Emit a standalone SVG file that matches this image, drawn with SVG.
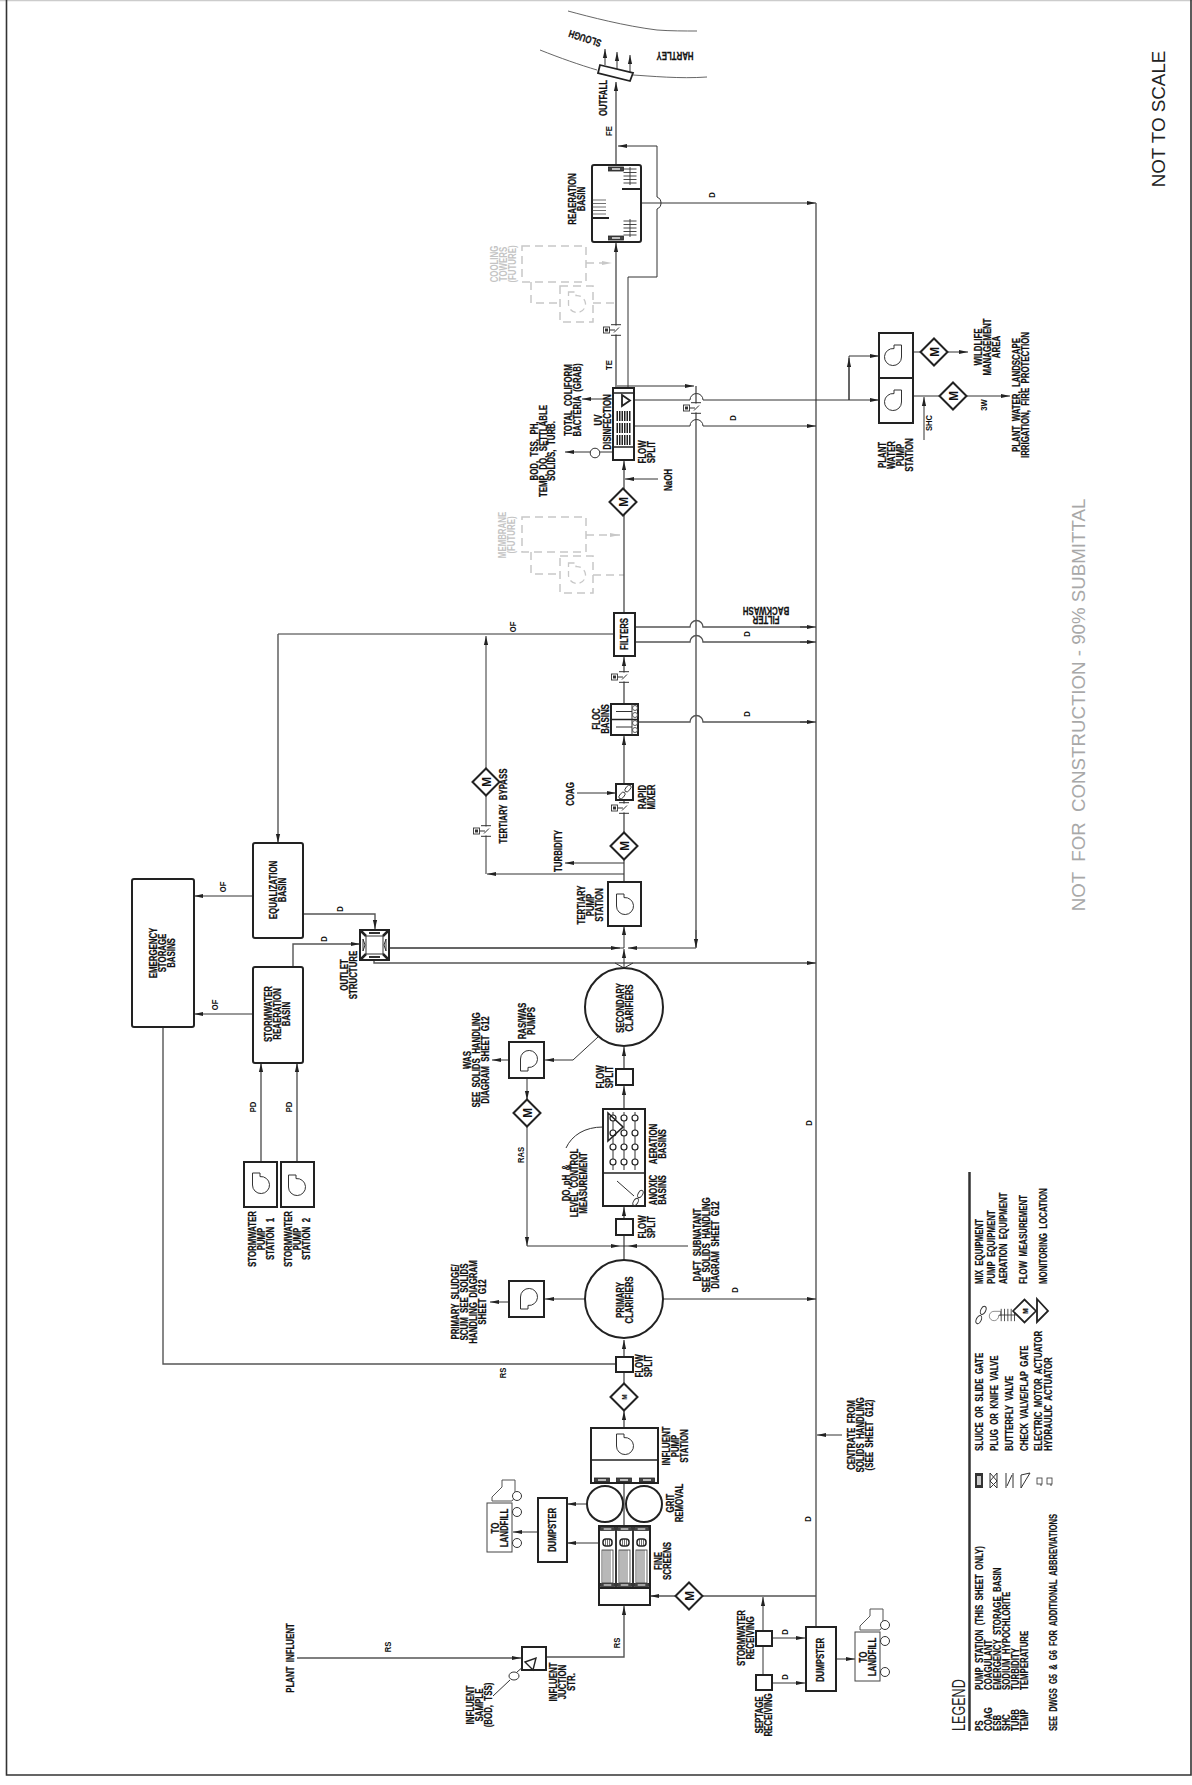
<svg xmlns="http://www.w3.org/2000/svg" width="1192" height="1785" viewBox="0 0 1192 1785">
<style>
text{font-family:"Liberation Sans",Arial,sans-serif;fill:#111;white-space:pre}
.t{font-size:10.5px;font-weight:bold;text-anchor:middle;stroke:#111;stroke-width:.25}
.s{font-size:10.5px;font-weight:bold;stroke:#111;stroke-width:.2}
.l{font-size:9px;text-anchor:middle;font-weight:bold}
.f{font-size:10.5px;font-weight:bold;text-anchor:middle;fill:#c4c4c4}
.m{font-size:13px;font-weight:bold;text-anchor:middle}
.box{fill:#fff;stroke:#222;stroke-width:2}
.ln{fill:none;stroke:#333;stroke-width:1}
.ln2{fill:none;stroke:#555;stroke-width:1.4}
.mk{marker-end:url(#a)}
.fu{fill:none;stroke:#c8c8c8;stroke-width:1.5;stroke-dasharray:8 5}
.fp{fill:none;stroke:#c8c8c8;stroke-width:1.3;stroke-dasharray:6 4}
.hat{stroke:#333;stroke-width:.7;fill:none}
.bar{stroke:#222;stroke-width:10;stroke-dasharray:1.5 1;fill:none}
</style>
<defs>
<marker id="a" markerUnits="userSpaceOnUse" markerWidth="11" markerHeight="6" refX="10" refY="3" orient="auto"><path d="M1,.9 L10,3 L1,5.100 Z" fill="#222"/></marker>
<marker id="ag" markerUnits="userSpaceOnUse" markerWidth="11" markerHeight="6" refX="10" refY="3" orient="auto"><path d="M0,1 L10,3 L0,5 Z" fill="#c8c8c8"/></marker>
<path id="pump" d="M-8.500,-12 H-1 V-8.400 A8.500,8.500 0 1 1 -8.500,0 Z" fill="none" stroke="#333" stroke-width="1"/>
<path id="dia" d="M-13.500,0 L0,-13.500 L13.500,0 L0,13.500 Z" fill="#fff" stroke="#222" stroke-width="2"/>
<g id="valve"><rect x="-6" y="-4.500" width="12" height="9" fill="#fff"/><path d="M-5,-5.300H5M-5,5.300H5M-7,0H-1M-2,2.500L3,-2.500" fill="none" stroke="#333" stroke-width="1"/><rect x="-12.500" y="-3" width="6" height="6" fill="#fff" stroke="#333" stroke-width=".9"/><rect x="-11" y="-1.500" width="3" height="3" fill="#333"/></g>
<g id="gate"><rect x="-7.500" y="-2" width="15" height="4" fill="#444" stroke="#222" stroke-width=".8"/><rect x="-4" y="-.8" width="8" height="1.600" fill="#ddd"/></g>
<g id="prop" fill="none" stroke="#333" stroke-width=".9"><ellipse cx="3" cy="-3.500" rx="2.200" ry="4" transform="rotate(40 3 -3.500)"/><ellipse cx="-3" cy="3.500" rx="2.200" ry="4" transform="rotate(40 -3 3.500)"/></g>
<g id="aer" class="hat"><path d="M-6.500,-10H6.500M-6.500,-6.500H6.500M-6.500,-3H6.500M-6.500,.5H6.500M-6.500,4H6.500M0,-12V6" stroke-width=".9"/></g>
<g id="truck"><path d="M28,-23 H15 V-16 L5,-6 V-2 H25 L28,-6 Z" fill="#fff" stroke="#555" stroke-width="1"/><rect x="0" y="0" width="25" height="49" fill="#fff" stroke="#444" stroke-width="1"/><circle cx="30" cy="-7" r="4.500" fill="#fff" stroke="#333" stroke-width="1"/><circle cx="30" cy="9" r="4.500" fill="#fff" stroke="#333" stroke-width="1"/><circle cx="30" cy="40" r="4.500" fill="#fff" stroke="#333" stroke-width="1"/></g>
</defs>
<rect width="1192" height="1785" fill="#fff"/>
<path d="M0,.5H1192" stroke="#ccc" stroke-width="1.500"/>
<path d="M6.500,0V1775H1191V0" fill="none" stroke="#333" stroke-width="1.600"/>

<g id="waterway" fill="none" stroke="#555" stroke-width=".9">
<path d="M568,11 C590,17 625,26 657,30 C670,31 685,31 697,31"/>
<path d="M540,50 C560,58 580,65 597,70"/>
<path d="M633,75 C650,76 680,79 707,77"/>
</g>

<g id="connectors">
<path class="fu" d="M586,263H612" marker-end="url(#ag)"/><path class="fu" d="M593,303H616"/><path class="fu" d="M586,535H620" marker-end="url(#ag)"/><path class="fu" d="M593,575H624"/>
<path class="ln2 mk" d="M616,165V82"/>
<path class="ln mk" d="M605,65V49"/><path class="ln mk" d="M617,70V52"/><path class="ln mk" d="M630,72V55"/>
<path class="ln mk" d="M628,390V277H657V209A6.500,6.500 0 0 0 657,197V146H618"/>
<path class="ln mk" d="M641,203H816"/>
<path class="ln2 mk" d="M616,390V243"/>
<path class="ln2" d="M816,203V1627"/>
<path class="ln mk" d="M617,386H694"/>
<path class="ln2" d="M696,386V947"/>
<path class="ln mk" d="M633,400H690A6.500,6.500 0 0 1 703,400H879"/>
<path class="ln mk" d="M633,426H690A6.500,6.500 0 0 1 703,426H816"/>
<path class="ln mk" d="M849,400V356H879"/>
<path class="ln mk" d="M849,400V358"/>
<path class="ln" d="M904,352H920"/><path class="ln mk" d="M947,352H968"/>
<path class="ln" d="M904,396H939"/><path class="ln mk" d="M967,396H1010"/>
<path class="ln mk" d="M924,440V397"/>
<path class="ln mk" d="M613,399H582"/>
<path class="ln mk" d="M613,452H565"/>
<path class="ln mk" d="M658,479H625"/>
<path class="ln2 mk" d="M624,613V461"/>
<path class="ln2 mk" d="M624,704V657"/>
<path class="ln2 mk" d="M624,784V736"/>
<path class="ln2" d="M624,882V860"/>
<path class="ln2" d="M624,832V801"/>
<path class="ln2" d="M635,627H690A6.500,6.500 0 0 1 703,627H810"/><path class="ln mk" d="M800,627H816"/>
<path class="ln2" d="M635,642H690A6.500,6.500 0 0 1 703,642H810"/><path class="ln mk" d="M800,642H816"/>
<path class="ln2" d="M638,722H690A6.500,6.500 0 0 1 703,722H810"/><path class="ln mk" d="M800,722H816"/>
<path class="ln" d="M614,634H278"/><path class="ln2 mk" d="M278,634V843"/>
<path class="ln mk" d="M486,768V636"/><path class="ln" d="M486,796V874"/><path class="ln mk" d="M624,874H487"/>
<path class="ln mk" d="M624,863H565"/>
<path class="ln mk" d="M577,793H616"/>
<path class="ln mk" d="M253,896H194"/>
<path class="ln mk" d="M253,1014H194"/>
<path class="ln2 mk" d="M303,914H375V929"/>
<path class="ln2 mk" d="M293,967V944H360"/>
<path class="ln" d="M389,948H624"/><path class="ln mk" d="M389,948H620"/>
<path class="ln mk" d="M696,948H628"/>
<path class="ln2 mk" d="M696,930V948"/>
<path class="ln2 mk" d="M374,960V963H816"/>
<path class="ln mk" d="M624,948V926"/>
<path class="ln mk" d="M624,968V949"/>
<path class="ln" d="M615,963L624,968L633,963"/>
<path class="ln2 mk" d="M261,1162V1063"/><path class="ln2 mk" d="M297,1162V1063"/>
<path class="ln2 mk" d="M624,1068V1047"/>
<path class="ln2 mk" d="M624,1109V1086"/>
<path class="ln2 mk" d="M624,1219V1207"/>
<path class="ln2" d="M624,1235V1260"/>
<path class="ln mk" d="M598,1037L573,1060H545"/>
<path class="ln mk" d="M509,1060H492"/>
<path class="ln mk" d="M527,1078V1100"/>
<path class="ln mk" d="M527,1127V1246"/><path class="ln mk" d="M527,1246H620"/><path class="ln mk" d="M688,1246H628"/><path class="ln" d="M620,1246H628"/>
<path class="ln" d="M566,1148C572,1135 585,1127 603,1127"/>
<path class="ln mk" d="M585,1299H545"/>
<path class="ln mk" d="M517,1302H490"/>
<path class="ln mk" d="M663,1299H816"/>
<path class="ln mk" d="M842,1435H817"/>
<path class="ln2 mk" d="M816,1596H650"/>
<path class="ln2" d="M163,1027V1364H616"/>
<path class="ln2 mk" d="M624,1357V1340"/>
<path class="ln2" d="M624,1383V1372"/>
<path class="ln2 mk" d="M624,1428V1411"/>
<path class="ln2" d="M624,1526V1483"/>
<path class="ln mk" d="M587,1504H567"/>
<path class="ln mk" d="M599,1543H567"/>
<path class="ln mk" d="M538,1532H513"/>
<path class="ln2 mk" d="M546,1657H624V1606"/>
<path class="ln2 mk" d="M297,1658H521"/>
<path class="ln" d="M493,1696L510,1680M517,1672L524,1666"/>
<path class="ln mk" d="M763,1631V1597"/><path class="ln" d="M763,1646V1675"/>
<path class="ln mk" d="M772,1638H805"/><path class="ln mk" d="M772,1683H805"/>
<path class="ln mk" d="M836,1659H855"/>
</g>

<g id="line-labels">
<g class="l">
<text transform="translate(612 131) rotate(-90) scale(.85 1)">FE</text>
<text transform="translate(612 365) rotate(-90) scale(.85 1)">TE</text>
<text transform="translate(715 195) rotate(-90) scale(.85 1)">D</text>
<text transform="translate(736 418) rotate(-90) scale(.85 1)">D</text>
<text transform="translate(750 634) rotate(-90) scale(.85 1)">D</text>
<text transform="translate(750 714) rotate(-90) scale(.85 1)">D</text>
<text transform="translate(516 627) rotate(-90) scale(.85 1)">OF</text>
<text transform="translate(226 887) rotate(-90) scale(.85 1)">OF</text>
<text transform="translate(218 1005) rotate(-90) scale(.85 1)">OF</text>
<text transform="translate(343 909) rotate(-90) scale(.85 1)">D</text>
<text transform="translate(327 939) rotate(-90) scale(.85 1)">D</text>
<text transform="translate(256 1107) rotate(-90) scale(.85 1)">PD</text>
<text transform="translate(292 1107) rotate(-90) scale(.85 1)">PD</text>
<text transform="translate(524 1155) rotate(-90) scale(.85 1)">RAS</text>
<text transform="translate(812 1123) rotate(-90) scale(.85 1)">D</text>
<text transform="translate(738 1290) rotate(-90) scale(.85 1)">D</text>
<text transform="translate(811 1519) rotate(-90) scale(.85 1)">D</text>
<text transform="translate(506 1373) rotate(-90) scale(.85 1)">RS</text>
<text transform="translate(391 1647) rotate(-90) scale(.85 1)">RS</text>
<text transform="translate(620 1643) rotate(-90) scale(.85 1)">RS</text>
<text transform="translate(788 1632) rotate(-90) scale(.85 1)">D</text>
<text transform="translate(788 1677) rotate(-90) scale(.85 1)">D</text>
<text transform="translate(987 405) rotate(-90) scale(.85 1)">3W</text>
<text transform="translate(932 423) rotate(-90) scale(.85 1)">SHC</text>
</g>
<g class="t">
<text transform="translate(586 35) rotate(198) scale(.75 1)">SLOUGH</text>
<text transform="translate(675 52) rotate(180) scale(.75 1)">HARTLEY</text>
<text transform="translate(607 98) rotate(-90) scale(.75 1)">OUTFALL</text>
<text transform="translate(766 616) rotate(180) scale(.75 1)">FILTER</text>
<text transform="translate(766 607) rotate(180) scale(.75 1)">BACKWASH</text>
<text transform="translate(672 480) rotate(-90) scale(.75 1)">NaOH</text>
<text transform="translate(507 806) rotate(-90) scale(.75 1)">TERTIARY  BYPASS</text>
<text transform="translate(562 851) rotate(-90) scale(.75 1)">TURBIDITY</text>
<text transform="translate(574 794) rotate(-90) scale(.75 1)">COAG</text>
<text transform="translate(572 400) rotate(-90) scale(.75 1)">TOTAL  COLIFORM</text>
<text transform="translate(581 400) rotate(-90) scale(.75 1)">BACTERIA  (GRAB)</text>
<text transform="translate(538 451) rotate(-90) scale(.75 1)">BOD,  TSS,  PH,</text>
<text transform="translate(547 451) rotate(-90) scale(.75 1)">TEMP,  DO,  SETTLABLE</text>
<text transform="translate(555 451) rotate(-90) scale(.75 1)">SOLIDS,  TURB.</text>
<text transform="translate(982 347) rotate(-90) scale(.75 1)">WILDLIFE</text>
<text transform="translate(991 347) rotate(-90) scale(.75 1)">MANAGEMENT</text>
<text transform="translate(1000 347) rotate(-90) scale(.75 1)">AREA</text>
<text transform="translate(1020 395) rotate(-90) scale(.75 1)">PLANT  WATER,  LANDSCAPE</text>
<text transform="translate(1029 395) rotate(-90) scale(.75 1)">IRRIGATION,  FIRE  PROTECTION</text>
<text transform="translate(471 1060) rotate(-90) scale(.75 1)">WAS</text>
<text transform="translate(480 1060) rotate(-90) scale(.75 1)">SEE  SOLIDS  HANDLING</text>
<text transform="translate(489 1060) rotate(-90) scale(.75 1)">DIAGRAM  SHEET  G12</text>
<text transform="translate(526 1021) rotate(-90) scale(.75 1)">RAS/WAS</text>
<text transform="translate(535 1021) rotate(-90) scale(.75 1)">PUMPS</text>
<text transform="translate(570 1183) rotate(-90) scale(.75 1)">DO, pH  &amp;</text>
<text transform="translate(578 1183) rotate(-90) scale(.75 1)">LEVEL  CONTROL</text>
<text transform="translate(587 1183) rotate(-90) scale(.75 1)">MEASUREMENT</text>
<text transform="translate(459 1302) rotate(-90) scale(.75 1)">PRIMARY  SLUDGE/</text>
<text transform="translate(468 1302) rotate(-90) scale(.75 1)">SCUM  SEE  SOLIDS</text>
<text transform="translate(477 1302) rotate(-90) scale(.75 1)">HANDLING  DIAGRAM</text>
<text transform="translate(486 1302) rotate(-90) scale(.75 1)">SHEET  G12</text>
<text transform="translate(701 1245) rotate(-90) scale(.75 1)">DAFT  SUBNATANT</text>
<text transform="translate(710 1245) rotate(-90) scale(.75 1)">SEE  SOLIDS  HANDLING</text>
<text transform="translate(719 1245) rotate(-90) scale(.75 1)">DIAGRAM  SHEET  G12</text>
<text transform="translate(855 1435) rotate(-90) scale(.75 1)">CENTRATE  FROM</text>
<text transform="translate(864 1435) rotate(-90) scale(.75 1)">SOLIDS  HANDLING</text>
<text transform="translate(873 1435) rotate(-90) scale(.75 1)">(SEE  SHEET  G12)</text>
<text transform="translate(294 1658) rotate(-90) scale(.75 1)">PLANT  INFLUENT</text>
<text transform="translate(474 1705) rotate(-90) scale(.75 1)">INFLUENT</text>
<text transform="translate(483 1705) rotate(-90) scale(.75 1)">SAMPLE</text>
<text transform="translate(492 1705) rotate(-90) scale(.75 1)">(BOD,  TSS)</text>
<text transform="translate(557 1682) rotate(-90) scale(.75 1)">INFLUENT</text>
<text transform="translate(566 1682) rotate(-90) scale(.75 1)">JUCTION</text>
<text transform="translate(575 1682) rotate(-90) scale(.75 1)">STR.</text>
</g>
<text transform="translate(1165 119) rotate(-90)" style="font-size:18.800px;text-anchor:middle;fill:#222">NOT TO SCALE</text>
<text transform="translate(1085 705) rotate(-90)" style="font-size:18.700px;text-anchor:middle;fill:#a8a8a8">NOT  FOR  CONSTRUCTION - 90% SUBMITTAL</text>
</g>

<g id="future-cooling">
<rect class="fu" x="522" y="246" width="64" height="36"/>
<path class="fu" d="M531,282V303H560"/>
<rect class="fu" x="560" y="286" width="33" height="36"/>
<path class="fp" transform="translate(577 304)" d="M-8.500,-12 H-1 V-8.400 A8.500,8.500 0 1 1 -8.500,0 Z"/>
<text class="f" transform="translate(498 264) rotate(-90) scale(.75 1)">COOLING</text>
<text class="f" transform="translate(507 264) rotate(-90) scale(.75 1)">TOWERS</text>
<text class="f" transform="translate(516 264) rotate(-90) scale(.75 1)">(FUTURE)</text>
</g>
<g id="future-membrane">
<rect class="fu" x="522" y="517" width="64" height="35"/>
<path class="fu" d="M531,552V574H560"/>
<rect class="fu" x="560" y="556" width="33" height="37"/>
<path class="fp" transform="translate(577 575)" d="M-8.500,-12 H-1 V-8.400 A8.500,8.500 0 1 1 -8.500,0 Z"/>
<text class="f" transform="translate(506 535) rotate(-90) scale(.75 1)">MEMBRANE</text>
<text class="f" transform="translate(515 535) rotate(-90) scale(.75 1)">(FUTURE)</text>
</g>

<g id="outfall"><path d="M600,65L633,73L630,81L598,73Z" fill="#fff" stroke="#222" stroke-width="1.800"/></g>

<g id="reaeration">
<rect class="box" x="592" y="165" width="49" height="77" rx="2"/>
<use href="#gate" transform="translate(616 169)"/><use href="#gate" transform="translate(616 238)"/>
<path d="M622,189H641M592,218H609" stroke="#222" stroke-width="2"/>
<use href="#aer" transform="translate(630 179)"/>
<use href="#aer" transform="translate(630 231)"/>
<path class="hat" d="M592,200H606M592,203.500H606M592,207H606M592,210.500H606M592,214H606" stroke-width=".9"/>
<text class="t" transform="translate(576 199) rotate(-90) scale(.75 1)">REAERATION</text>
<text class="t" transform="translate(585 199) rotate(-90) scale(.75 1)">BASIN</text>
</g>

<g id="uv">
<rect class="box" x="613" y="388" width="21" height="72"/>
<path d="M613,393H634M613,447H634" stroke="#222" stroke-width="1.500"/>
<path d="M622,395L630,400.500L622,406Z" fill="#fff" stroke="#222" stroke-width="1.800"/>
<path class="bar" d="M616.500,416H630.500M616.500,428H630.500M616.500,440H630.500"/>
<circle cx="595" cy="453" r="4.800" fill="#fff" stroke="#333" stroke-width="1"/>
<text class="t" transform="translate(602 420) rotate(-90) scale(.75 1)">UV</text>
<text class="t" transform="translate(611 422) rotate(-90) scale(.75 1)">DISINFECTION</text>
<text class="t" transform="translate(646 452) rotate(-90) scale(.75 1)">FLOW</text>
<text class="t" transform="translate(655 452) rotate(-90) scale(.75 1)">SPLIT</text>
</g>

<g id="valves">
<use href="#valve" transform="translate(616 330)"/>
<use href="#valve" transform="translate(696 408)"/>
<use href="#valve" transform="translate(624 677)"/>
<use href="#valve" transform="translate(624 808)"/>
<use href="#valve" transform="translate(486 831)"/>
</g>

<g id="plant-water-pump">
<rect class="box" x="879" y="333" width="34" height="45"/>
<rect class="box" x="879" y="378" width="34" height="45"/>
<use href="#pump" transform="translate(893 357) scale(-1 1)"/>
<use href="#pump" transform="translate(893 402) scale(-1 1)"/>
<text class="t" transform="translate(886 455) rotate(-90) scale(.75 1)">PLANT</text>
<text class="t" transform="translate(895 455) rotate(-90) scale(.75 1)">WATER</text>
<text class="t" transform="translate(904 455) rotate(-90) scale(.75 1)">PUMP</text>
<text class="t" transform="translate(913 455) rotate(-90) scale(.75 1)">STATION</text>
</g>

<g id="meters">
<g transform="translate(934 352)"><use href="#dia"/><text class="m" transform="translate(4.500 0) rotate(-90) scale(.9 1)">M</text></g>
<g transform="translate(953 396)"><use href="#dia"/><text class="m" transform="translate(4.500 0) rotate(-90) scale(.9 1)">M</text></g>
<g transform="translate(623 502)"><use href="#dia"/><text class="m" transform="translate(4.500 0) rotate(-90) scale(.9 1)">M</text></g>
<g transform="translate(486 782)"><use href="#dia"/><text class="m" transform="translate(4.500 0) rotate(-90) scale(.9 1)">M</text></g>
<g transform="translate(624 846)"><use href="#dia"/><text class="m" transform="translate(4.500 0) rotate(-90) scale(.9 1)">M</text></g>
<g transform="translate(527 1113)"><use href="#dia"/><text class="m" transform="translate(4.500 0) rotate(-90) scale(.9 1)">M</text></g>
<g transform="translate(624 1397)"><use href="#dia"/><text class="m" transform="translate(3 0) rotate(-90) scale(.8 1)" style="font-size:8px">M</text></g>
<g transform="translate(689 1596)"><use href="#dia"/><text class="m" transform="translate(4.500 0) rotate(-90) scale(.9 1)">M</text></g>
</g>

<g id="filters">
<rect class="box" x="614" y="613" width="21" height="43"/>
<text class="t" transform="translate(628 634) rotate(-90) scale(.75 1)">FILTERS</text>
</g>

<g id="floc-basins">
<rect class="box" x="611" y="704" width="27" height="31"/>
<path d="M611,719.500H638" stroke="#222" stroke-width="1.500"/>
<path class="ln" d="M616,711.500H632M616,727H632M632,704V735"/>
<g fill="#fff" stroke="#333" stroke-width=".8"><circle cx="635" cy="708" r="2.500"/><circle cx="635" cy="715" r="2.500"/><circle cx="635" cy="723" r="2.500"/><circle cx="635" cy="730" r="2.500"/></g>
<text class="t" transform="translate(600 719) rotate(-90) scale(.75 1)">FLOC</text>
<text class="t" transform="translate(609 719) rotate(-90) scale(.75 1)">BASINS</text>
</g>

<g id="rapid-mixer">
<rect class="box" x="616" y="784" width="17" height="16"/>
<use href="#prop" transform="translate(625 792)"/>
<text class="t" transform="translate(646 797) rotate(-90) scale(.75 1)">RAPID</text>
<text class="t" transform="translate(655 797) rotate(-90) scale(.75 1)">MIXER</text>
</g>

<g id="tertiary-pump">
<rect class="box" x="608" y="882" width="33" height="44"/>
<use href="#pump" transform="translate(625 906)"/>
<text class="t" transform="translate(585 905) rotate(-90) scale(.75 1)">TERTIARY</text>
<text class="t" transform="translate(594 905) rotate(-90) scale(.75 1)">PUMP</text>
<text class="t" transform="translate(603 905) rotate(-90) scale(.75 1)">STATION</text>
</g>

<g id="equalization">
<rect class="box" x="253" y="843" width="50" height="95" rx="2"/>
<text class="t" transform="translate(277 890) rotate(-90) scale(.75 1)">EQUALIZATION</text>
<text class="t" transform="translate(286 890) rotate(-90) scale(.75 1)">BASIN</text>
</g>
<g id="emergency">
<rect class="box" x="132" y="879" width="62" height="148" rx="2"/>
<text class="t" transform="translate(157 953) rotate(-90) scale(.75 1)">EMERGENCY</text>
<text class="t" transform="translate(166 953) rotate(-90) scale(.75 1)">STORAGE</text>
<text class="t" transform="translate(175 953) rotate(-90) scale(.75 1)">BASINS</text>
</g>
<g id="stormwater-reaeration">
<rect class="box" x="253" y="967" width="50" height="96" rx="2"/>
<text class="t" transform="translate(272 1014) rotate(-90) scale(.75 1)">STORMWATER</text>
<text class="t" transform="translate(281 1014) rotate(-90) scale(.75 1)">REAERATION</text>
<text class="t" transform="translate(290 1014) rotate(-90) scale(.75 1)">BASIN</text>
</g>
<g id="outlet-structure">
<rect class="box" x="360" y="930" width="29" height="30"/>
<rect x="366" y="936" width="17" height="18" fill="#fff" stroke="#333" stroke-width="1"/>
<path d="M360,930L366,936M389,930L383,936M360,960L366,954M389,960L383,954" stroke="#222" stroke-width="2.500"/>
<path d="M369,933H380M369,957H380" stroke="#333" stroke-width="2"/>
<path d="M363,939V951L365,945ZM386,939V951L384,945Z" fill="#fff" stroke="#333" stroke-width="1"/>
<text class="t" transform="translate(348 975) rotate(-90) scale(.75 1)">OUTLET</text>
<text class="t" transform="translate(357 975) rotate(-90) scale(.75 1)">STRUCTURE</text>
</g>
<g id="storm-pump-1">
<rect class="box" x="244" y="1162" width="33" height="45"/>
<use href="#pump" transform="translate(261 1185)"/>
<text class="t" transform="translate(256 1239) rotate(-90) scale(.75 1)">STORMWATER</text>
<text class="t" transform="translate(265 1239) rotate(-90) scale(.75 1)">PUMP</text>
<text class="t" transform="translate(274 1239) rotate(-90) scale(.75 1)">STATION  1</text>
</g>
<g id="storm-pump-2">
<rect class="box" x="281" y="1162" width="33" height="45"/>
<use href="#pump" transform="translate(297 1187)"/>
<text class="t" transform="translate(292 1239) rotate(-90) scale(.75 1)">STORMWATER</text>
<text class="t" transform="translate(301 1239) rotate(-90) scale(.75 1)">PUMP</text>
<text class="t" transform="translate(310 1239) rotate(-90) scale(.75 1)">STATION  2</text>
</g>
<g id="secondary-clarifiers">
<circle class="box" cx="624" cy="1007" r="39"/>
<text class="t" transform="translate(624 1008) rotate(-90) scale(.75 1)">SECONDARY</text>
<text class="t" transform="translate(633 1008) rotate(-90) scale(.75 1)">CLARIFIERS</text>
</g>
<g id="ras-was-pump">
<rect class="box" x="509" y="1042" width="35" height="36"/>
<use href="#pump" transform="translate(529 1059) scale(1 -1)"/>
</g>
<g id="flow-split-2">
<rect class="box" x="616" y="1069" width="17" height="16"/>
<text class="t" transform="translate(604 1077) rotate(-90) scale(.75 1)">FLOW</text>
<text class="t" transform="translate(613 1077) rotate(-90) scale(.75 1)">SPLIT</text>
</g>
<g id="aeration-basins">
<rect class="box" x="603" y="1109" width="42" height="97"/>
<path d="M603,1173H645" stroke="#222" stroke-width="1.500"/>
<path class="ln" d="M613,1112V1170M624,1112V1170M635,1112V1170"/>
<g fill="#fff" stroke="#222" stroke-width="1.200">
<circle cx="613" cy="1118" r="3"/><circle cx="613" cy="1133" r="3"/><circle cx="613" cy="1147" r="3"/><circle cx="613" cy="1162" r="3"/>
<circle cx="624" cy="1118" r="3"/><circle cx="624" cy="1133" r="3"/><circle cx="624" cy="1147" r="3"/><circle cx="624" cy="1162" r="3"/>
<circle cx="635" cy="1118" r="3"/><circle cx="635" cy="1133" r="3"/><circle cx="635" cy="1147" r="3"/><circle cx="635" cy="1162" r="3"/>
</g>
<path d="M608,1113L623,1127L608,1141Z" fill="none" stroke="#222" stroke-width="1.600"/>
<path class="ln" d="M617,1181L634,1196"/>
<use href="#prop" transform="translate(638 1198) rotate(-10)"/>
<text class="t" transform="translate(657 1144) rotate(-90) scale(.75 1)">AERATION</text>
<text class="t" transform="translate(666 1144) rotate(-90) scale(.75 1)">BASINS</text>
<text class="t" transform="translate(657 1190) rotate(-90) scale(.75 1)">ANOXIC</text>
<text class="t" transform="translate(666 1190) rotate(-90) scale(.75 1)">BASINS</text>
</g>
<g id="flow-split-1">
<rect class="box" x="616" y="1219" width="17" height="16"/>
<text class="t" transform="translate(646 1227) rotate(-90) scale(.75 1)">FLOW</text>
<text class="t" transform="translate(655 1227) rotate(-90) scale(.75 1)">SPLIT</text>
</g>
<g id="primary-clarifiers">
<circle class="box" cx="624" cy="1299" r="39"/>
<text class="t" transform="translate(624 1300) rotate(-90) scale(.75 1)">PRIMARY</text>
<text class="t" transform="translate(633 1300) rotate(-90) scale(.75 1)">CLARIFIERS</text>
</g>
<g id="sludge-pump">
<rect class="box" x="509" y="1281" width="35" height="36"/>
<use href="#pump" transform="translate(529 1297) scale(1 -1)"/>
</g>
<g id="flow-split-0">
<rect class="box" x="616" y="1357" width="17" height="15"/>
<text class="t" transform="translate(643 1366) rotate(-90) scale(.75 1)">FLOW</text>
<text class="t" transform="translate(652 1366) rotate(-90) scale(.75 1)">SPLIT</text>
</g>
<g id="influent-pump">
<rect class="box" x="591" y="1428" width="67" height="55"/>
<path d="M591,1460H658" stroke="#222" stroke-width="1.500"/>
<use href="#pump" transform="translate(625 1446)"/>
<use href="#gate" transform="translate(602 1480)"/><use href="#gate" transform="translate(624 1480)"/><use href="#gate" transform="translate(647 1480)"/>
<text class="t" transform="translate(670 1446) rotate(-90) scale(.75 1)">INFLUENT</text>
<text class="t" transform="translate(679 1446) rotate(-90) scale(.75 1)">PUMP</text>
<text class="t" transform="translate(688 1446) rotate(-90) scale(.75 1)">STATION</text>
</g>
<g id="grit-removal">
<circle class="box" cx="605" cy="1504" r="18"/>
<circle class="box" cx="644" cy="1504" r="18"/>
<text class="t" transform="translate(674 1503) rotate(-90) scale(.75 1)">GRIT</text>
<text class="t" transform="translate(683 1503) rotate(-90) scale(.75 1)">REMOVAL</text>
</g>
<g id="fine-screens">
<rect class="box" x="599" y="1526" width="51" height="79"/>
<path d="M616,1526V1588M633,1526V1588M599,1588H650" stroke="#222" stroke-width="1.800"/>
<use href="#gate" transform="translate(607.500 1529) scale(.95 .8)"/><use href="#gate" transform="translate(624.500 1529) scale(.95 .8)"/><use href="#gate" transform="translate(641.500 1529) scale(.95 .8)"/>
<use href="#gate" transform="translate(607.500 1585) scale(.95 .8)"/><use href="#gate" transform="translate(624.500 1585) scale(.95 .8)"/><use href="#gate" transform="translate(641.500 1585) scale(.95 .8)"/>
<g fill="#fff" stroke="#222" stroke-width="1.500"><rect x="603" y="1539" width="9" height="7" rx="3"/><rect x="620" y="1539" width="9" height="7" rx="3"/><rect x="637" y="1539" width="9" height="7" rx="3"/></g>
<path class="hat" stroke-width="1.200" d="M605.500,1539V1546M607.500,1539V1546M609.500,1539V1546M622.500,1539V1546M624.500,1539V1546M626.500,1539V1546M639.500,1539V1546M641.500,1539V1546M643.500,1539V1546"/>
<g fill="#fff" stroke="#333" stroke-width=".8"><rect x="602" y="1550" width="11" height="33"/><rect x="619" y="1550" width="11" height="33"/><rect x="636" y="1550" width="11" height="33"/></g>
<path class="hat" d="M604,1550V1583M606,1550V1583M608,1550V1583M610,1550V1583M621,1550V1583M623,1550V1583M625,1550V1583M627,1550V1583M638,1550V1583M640,1550V1583M642,1550V1583M644,1550V1583"/>
<text class="t" transform="translate(662 1561) rotate(-90) scale(.75 1)">FINE</text>
<text class="t" transform="translate(671 1561) rotate(-90) scale(.75 1)">SCREENS</text>
</g>
<g id="dumpster-1">
<rect class="box" x="538" y="1498" width="29" height="64"/>
<text class="t" transform="translate(556 1530) rotate(-90) scale(.75 1)">DUMPSTER</text>
</g>
<g id="landfill-1">
<use href="#truck" transform="translate(487 1503)"/>
<text class="t" transform="translate(499 1528) rotate(-90) scale(.75 1)">TO</text>
<text class="t" transform="translate(508 1528) rotate(-90) scale(.75 1)">LANDFILL</text>
</g>
<g id="influent-junction">
<rect class="box" x="522" y="1647" width="24" height="23"/>
<path d="M525,1662L536,1658L533,1670Z" fill="#fff" stroke="#222" stroke-width="1.400"/>
<ellipse cx="514" cy="1676" rx="5" ry="4" fill="#fff" stroke="#333" stroke-width="1"/>
</g>
<g id="stormwater-receiving">
<rect class="box" x="756" y="1631" width="16" height="15"/>
<text class="t" transform="translate(745 1638) rotate(-90) scale(.75 1)">STORMWATER</text>
<text class="t" transform="translate(754 1638) rotate(-90) scale(.75 1)">RECEIVING</text>
</g>
<g id="septage-receiving">
<rect class="box" x="756" y="1675" width="16" height="15"/>
<text class="t" transform="translate(763 1715) rotate(-90) scale(.75 1)">SEPTAGE</text>
<text class="t" transform="translate(772 1715) rotate(-90) scale(.75 1)">RECEIVING</text>
</g>
<g id="dumpster-2">
<rect class="box" x="806" y="1627" width="30" height="64"/>
<text class="t" transform="translate(824 1660) rotate(-90) scale(.75 1)">DUMPSTER</text>
</g>
<g id="landfill-2">
<use href="#truck" transform="translate(855 1632)"/>
<text class="t" transform="translate(867 1657) rotate(-90) scale(.75 1)">TO</text>
<text class="t" transform="translate(876 1657) rotate(-90) scale(.75 1)">LANDFILL</text>
</g>

<g id="legend">
<path d="M969.500,1172V1731" stroke="#333" stroke-width="2.500"/>
<text transform="translate(965 1731) rotate(-90) scale(.7 1)" style="font-size:18px;fill:#222">LEGEND</text>
<g class="s">
<text transform="translate(983 1731) rotate(-90) scale(.75 1)">PS</text>
<text transform="translate(992 1731) rotate(-90) scale(.75 1)">COAG</text>
<text transform="translate(1001 1731) rotate(-90) scale(.75 1)">ESB</text>
<text transform="translate(1010 1731) rotate(-90) scale(.75 1)">SHC</text>
<text transform="translate(1019 1731) rotate(-90) scale(.75 1)">TURB</text>
<text transform="translate(1028 1731) rotate(-90) scale(.75 1)">TEMP</text>
<text transform="translate(983 1690) rotate(-90) scale(.75 1)">PUMP  STATION  (THIS  SHEET  ONLY)</text>
<text transform="translate(992 1690) rotate(-90) scale(.75 1)">COAGULANT</text>
<text transform="translate(1001 1690) rotate(-90) scale(.75 1)">EMERGENCY  STORAGE  BASIN</text>
<text transform="translate(1010 1690) rotate(-90) scale(.75 1)">SODIUM  HYPOCHLORITE</text>
<text transform="translate(1019 1690) rotate(-90) scale(.75 1)">TURBIDITY</text>
<text transform="translate(1028 1690) rotate(-90) scale(.75 1)">TEMPERATURE</text>
<text transform="translate(1057 1731) rotate(-90) scale(.72 1)">SEE  DWGS  G5  &amp;  G6  FOR  ADDITIONAL  ABBREVIATIONS</text>
<text transform="translate(983 1451) rotate(-90) scale(.75 1)">SLUICE  OR  SLIDE  GATE</text>
<text transform="translate(998 1451) rotate(-90) scale(.75 1)">PLUG  OR  KNIFE  VALVE</text>
<text transform="translate(1013 1451) rotate(-90) scale(.75 1)">BUTTERFLY  VALVE</text>
<text transform="translate(1028 1451) rotate(-90) scale(.75 1)">CHECK  VALVE/FLAP  GATE</text>
<text transform="translate(1042 1451) rotate(-90) scale(.75 1)">ELECTRIC  MOTOR  ACTUATOR</text>
<text transform="translate(1052 1451) rotate(-90) scale(.75 1)">HYDRAULIC  ACTUATOR</text>
<text transform="translate(983 1284) rotate(-90) scale(.75 1)">MIX  EQUIPMENT</text>
<text transform="translate(995 1284) rotate(-90) scale(.75 1)">PUMP  EQUIPMENT</text>
<text transform="translate(1007 1284) rotate(-90) scale(.75 1)">AERATION  EQUIPMENT</text>
<text transform="translate(1027 1284) rotate(-90) scale(.75 1)">FLOW  MEASUREMENT</text>
<text transform="translate(1047 1284) rotate(-90) scale(.75 1)">MONITORING  LOCATION</text>
</g>
<rect x="975" y="1473" width="8" height="15" fill="#333"/><rect x="977" y="1476" width="4" height="9" fill="#ccc"/>
<path d="M990,1473V1488M997,1473V1488M990,1473L997,1481L990,1488M997,1473L990,1481L997,1488" fill="none" stroke="#333" stroke-width="1"/>
<path d="M1006,1473V1488M1013,1473V1488M1007,1486L1012,1475" fill="none" stroke="#333" stroke-width="1"/>
<path d="M1021,1488V1475L1030,1473M1021,1488L1030,1473" fill="none" stroke="#333" stroke-width="1"/>
<path d="M1041,1478V1486M1037,1482H1042" fill="none" stroke="#333" stroke-width=".9"/><rect x="1037" y="1478" width="5" height="6" fill="#fff" stroke="#333" stroke-width=".8"/>
<path d="M1051,1478V1486M1047,1482H1052" fill="none" stroke="#333" stroke-width=".9"/><rect x="1047" y="1478" width="5" height="6" fill="#fff" stroke="#333" stroke-width=".8"/>
<use href="#prop" transform="translate(981 1315) rotate(-15) scale(1.100)"/>
<use href="#pump" transform="translate(994 1316) rotate(90) scale(.55)"/>
<use href="#aer" transform="translate(1005 1315) rotate(90) scale(.95)"/>
<use href="#dia" transform="translate(1024.500 1311) scale(.85)"/>
<text class="t" transform="translate(1028 1311) rotate(-90) scale(.8 1)" style="font-size:8px">M</text>
<path d="M1037,1299L1048,1311L1037,1322Z" fill="none" stroke="#222" stroke-width="1.800"/>
</g>
</svg>
